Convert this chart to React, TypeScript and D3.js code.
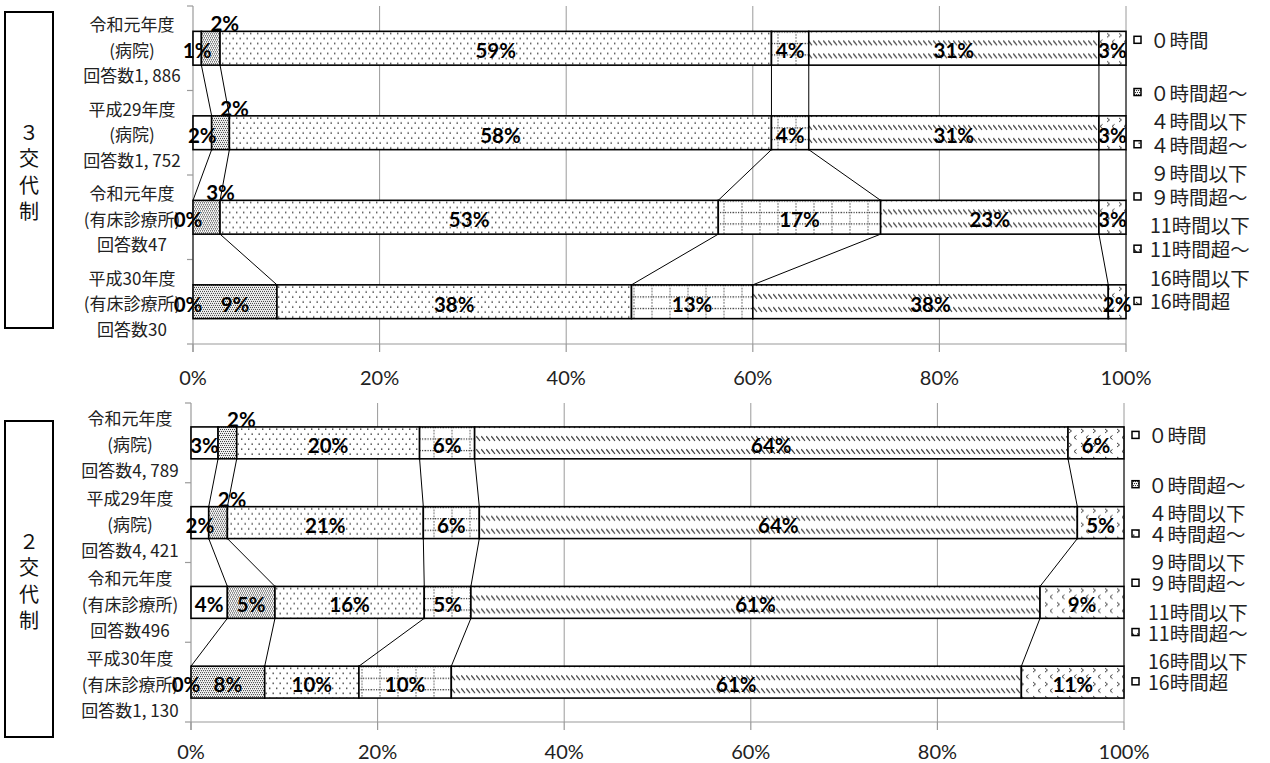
import React from "react";
import * as d3 from "d3";

// ---------- data ----------
const seriesKeys = ["s0", "s1", "s2", "s3", "s4", "s5"];
const legendLines: string[][] = [
  ["０時間"],
  ["０時間超～", "４時間以下"],
  ["４時間超～", "９時間以下"],
  ["９時間超～", "11時間以下"],
  ["11時間超～", "16時間以下"],
  ["16時間超"],
];
const xTicks = [0, 20, 40, 60, 80, 100];
const xTickLabels = ["0%", "20%", "40%", "60%", "80%", "100%"];

const threeShiftGroup = ["３", "交", "代", "制"];
const threeShiftCategories = [
  ["令和元年度", "(病院)", "回答数1, 886"],
  ["平成29年度", "(病院)", "回答数1, 752"],
  ["令和元年度", "(有床診療所)", "回答数47"],
  ["平成30年度", "(有床診療所)", "回答数30"],
];
const threeShiftValues = [
  [0.9, 2.0, 59.1, 4.0, 31.1, 2.9],
  [2.0, 1.9, 58.1, 4.0, 31.1, 2.9],
  [0.0, 2.9, 53.4, 17.4, 23.4, 2.9],
  [0.0, 9.0, 38.0, 13.0, 38.1, 1.9],
];

const twoShiftGroup = ["２", "交", "代", "制"];
const twoShiftCategories = [
  ["令和元年度", "(病院)", "回答数4, 789"],
  ["平成29年度", "(病院)", "回答数4, 421"],
  ["令和元年度", "(有床診療所)", "回答数496"],
  ["平成30年度", "(有床診療所)", "回答数1, 130"],
];
const twoShiftValues = [
  [2.9, 2.0, 19.6, 5.9, 63.6, 6.0],
  [1.9, 2.0, 21.0, 6.0, 64.1, 5.0],
  [3.9, 5.1, 16.0, 5.0, 61.0, 9.0],
  [0.0, 7.9, 10.1, 9.9, 61.1, 11.0],
];

// ---------- layout ----------
const topCfg = {
  id: "a", plotTop: 6, plotBottom: 344, x0: 193, x1: 1126,
  box: { x: 5, y: 12, w: 48, h: 316 }, tickLabelY: 377, legendX: 1134,
  catX: 132, catGap: 25.5,
};
const bottomCfg = {
  id: "b", plotTop: 403, plotBottom: 722, x0: 191, x1: 1124,
  box: { x: 5, y: 421, w: 48, h: 316 }, tickLabelY: 751, legendX: 1132,
  catX: 130, catGap: 26,
};

const CJK = "'Noto Sans CJK JP', 'Noto Sans', sans-serif";
const LAT = "Lato, 'Open Sans', sans-serif";
const INK = "#333";

function Patterns({ id, x0, top }: { id: string; x0: number; top: number }) {
  return (
    <>
      <pattern id={`p1-${id}`} patternUnits="userSpaceOnUse" x={x0} y={top} width={4} height={4}>
        <rect width={4} height={4} fill="#fff" />
        <rect x={0} y={0} width={1.1} height={1.1} fill={INK} />
        <rect x={2} y={0} width={1.1} height={1.1} fill={INK} />
        <rect x={1} y={2} width={1.1} height={1.1} fill={INK} />
        <rect x={3} y={2} width={1.1} height={1.1} fill={INK} />
      </pattern>
      <pattern id={`p2-${id}`} patternUnits="userSpaceOnUse" x={x0} y={top} width={7} height={10}>
        <rect width={7} height={10} fill="#fff" />
        <rect x={1} y={1.5} width={1.4} height={1.4} fill={INK} />
        <rect x={4.5} y={6.5} width={1.4} height={1.4} fill={INK} />
      </pattern>
      <pattern id={`p3-${id}`} patternUnits="userSpaceOnUse" x={x0} y={top} width={18} height={11.5}>
        <rect width={18} height={11.5} fill="#fff" />
        <line x1={0} y1={0.6} x2={18} y2={0.6} stroke={INK} strokeWidth={1.1} strokeDasharray="1.2 1.3" />
        <line x1={9} y1={0} x2={9} y2={11.5} stroke={INK} strokeWidth={1.1} strokeDasharray="1.2 1.8" />
      </pattern>
      <pattern id={`p4-${id}`} patternUnits="userSpaceOnUse" x={x0} y={top + 9} width={5} height={13}>
        <rect width={5} height={13} fill="#fff" />
        <line x1={0.3} y1={0.3} x2={4} y2={5} stroke={INK} strokeWidth={1.2} />
      </pattern>
      <pattern id={`p5-${id}`} patternUnits="userSpaceOnUse" x={x0} y={top} width={12} height={14}>
        <rect width={12} height={14} fill="#fff" />
        <polyline points="2,2 4.5,4 2,6" fill="none" stroke={INK} strokeWidth={1} />
        <polyline points="9.5,8.5 7,10.5 9.5,12.5" fill="none" stroke={INK} strokeWidth={1} />
      </pattern>
    </>
  );
}

function fillFor(s: number, id: string) {
  return s === 0 ? "#fff" : `url(#p${s}-${id})`;
}

function Panel({ cfg, categories, values, group }: any) {
  const x = d3.scaleLinear().domain([0, 100]).range([cfg.x0, cfg.x1]);
  const rows = categories.map((_: any, i: number) => String(i));
  const y = d3
    .scaleBand()
    .domain(rows)
    .range([cfg.plotTop, cfg.plotBottom])
    .paddingInner(0.6)
    .paddingOuter(0.3);
  const bw = y.bandwidth();
  const step = y.step();
  const data = values.map((v: number[]) =>
    Object.fromEntries(seriesKeys.map((k, i) => [k, v[i]]))
  );
  const stacked = d3.stack<any>().keys(seriesKeys)(data);
  const plotH = cfg.plotBottom - cfg.plotTop;
  const grid = "#9a9a9a";

  const boxCx = cfg.box.x + cfg.box.w / 2;
  const boxCy = cfg.box.y + cfg.box.h / 2;

  return (
    <g>
      <defs>
        {rows.map((r: string) => (
          <Patterns key={r} id={`${cfg.id}${r}`} x0={cfg.x0} top={y(r) as number} />
        ))}
        <Patterns id={`${cfg.id}L`} x0={cfg.legendX} top={cfg.plotTop} />
      </defs>

      {/* group box */}
      <rect x={cfg.box.x} y={cfg.box.y} width={cfg.box.w} height={cfg.box.h} fill="none" stroke="#000" strokeWidth={2} />
      {group.map((c: string, j: number) => (
        <text key={j} x={boxCx} y={boxCy + (j - 1.5) * 26.5 + 1} textAnchor="middle" dominantBaseline="central"
          fontFamily={CJK} fontSize={20} fill="#111">{c}</text>
      ))}

      {/* gridlines */}
      {xTicks.slice(1).map((t) => (
        <line key={t} x1={x(t)} x2={x(t)} y1={cfg.plotTop} y2={cfg.plotBottom} stroke={grid} strokeWidth={1} />
      ))}
      {/* y axis */}
      <line x1={cfg.x0} x2={cfg.x0} y1={cfg.plotTop} y2={cfg.plotBottom + 8} stroke={grid} strokeWidth={1.2} />
      {d3.range(rows.length + 1).map((k) => (
        <line key={k} x1={cfg.x0 - 6} x2={cfg.x0} y1={cfg.plotTop + k * step} y2={cfg.plotTop + k * step} stroke={grid} strokeWidth={1.2} />
      ))}
      {/* x axis */}
      <line x1={cfg.x0} x2={cfg.x1} y1={cfg.plotBottom} y2={cfg.plotBottom} stroke={grid} strokeWidth={1.2} />
      {xTicks.map((t) => (
        <line key={t} x1={x(t)} x2={x(t)} y1={cfg.plotBottom} y2={cfg.plotBottom + 8} stroke={grid} strokeWidth={1.2} />
      ))}
      {xTicks.map((t, i) => (
        <text key={t} x={x(t)} y={cfg.tickLabelY} textAnchor="middle" dominantBaseline="central"
          fontFamily={LAT} fontSize={20} fill="#222">{xTickLabels[i]}</text>
      ))}

      {/* category labels */}
      {categories.map((lines: string[], r: number) => {
        const cy = (y(String(r)) as number) + bw / 2;
        return lines.map((ln, j) => (
          <text key={`${r}-${j}`} x={cfg.catX} y={cy + (j - 1) * cfg.catGap + 1} textAnchor="middle"
            dominantBaseline="central" fontFamily={CJK} fontSize={17} fill="#222">{ln}</text>
        ));
      })}

      {/* series lines */}
      {stacked.map((ser, s) =>
        rows.slice(0, -1).map((r: string, i: number) => (
          <line key={`sl-${s}-${i}`}
            x1={x(ser[i][1])} y1={(y(r) as number) + bw}
            x2={x(ser[i + 1][1])} y2={y(rows[i + 1]) as number}
            stroke="#000" strokeWidth={1} />
        ))
      )}

      {/* bars */}
      {stacked.map((ser, s) =>
        ser.map((d, i) => (
          <rect key={`b-${s}-${i}`} x={x(d[0])} y={y(rows[i]) as number}
            width={Math.max(0, x(d[1]) - x(d[0]))} height={bw}
            fill={fillFor(s, `${cfg.id}${rows[i]}`)} stroke="#000" strokeWidth={1.6} />
        ))
      )}

      {/* data labels */}
      {stacked.map((ser, s) =>
        ser.map((d, i) => {
          const v = values[i][s];
          const top = y(rows[i]) as number;
          let lx = (x(d[0]) + x(d[1])) / 2;
          let ly = top + bw / 2 + 2;
          if (s === 1 && v < 3.5) {
            lx += 14;
            ly = top - 8;
          }
          if (v === 0) lx -= 5;
          return (
            <text key={`l-${s}-${i}`} x={lx} y={ly} textAnchor="middle" dominantBaseline="central"
              fontFamily={LAT} fontWeight={700} fontSize={20.5} fill="#000">{`${Math.round(v)}%`}</text>
          );
        })
      )}

      {/* legend */}
      {legendLines.map((lines, i) => {
        const y0 = cfg.plotTop + plotH * 0.1 + i * plotH * 0.1545;
        return (
          <g key={i}>
            <rect x={cfg.legendX} y={y0 - 3.5} width={7} height={7}
              fill={fillFor(i, `${cfg.id}L`)} stroke="#000" strokeWidth={1.5} />
            {lines.map((ln, j) => (
              <text key={j} x={cfg.legendX + 16} y={y0 + j * 28.5} dominantBaseline="central"
                fontFamily={CJK} fontSize={19.5} fill="#222">{ln}</text>
            ))}
          </g>
        );
      })}
    </g>
  );
}

export default function App() {
  return (
    <svg width={1270} height={763} style={{ position: "absolute", left: 0, top: 0, background: "#fff" }}>
      <rect width={1270} height={763} fill="#fff" />
      <Panel cfg={topCfg} categories={threeShiftCategories} values={threeShiftValues} group={threeShiftGroup} />
      <Panel cfg={bottomCfg} categories={twoShiftCategories} values={twoShiftValues} group={twoShiftGroup} />
    </svg>
  );
}
